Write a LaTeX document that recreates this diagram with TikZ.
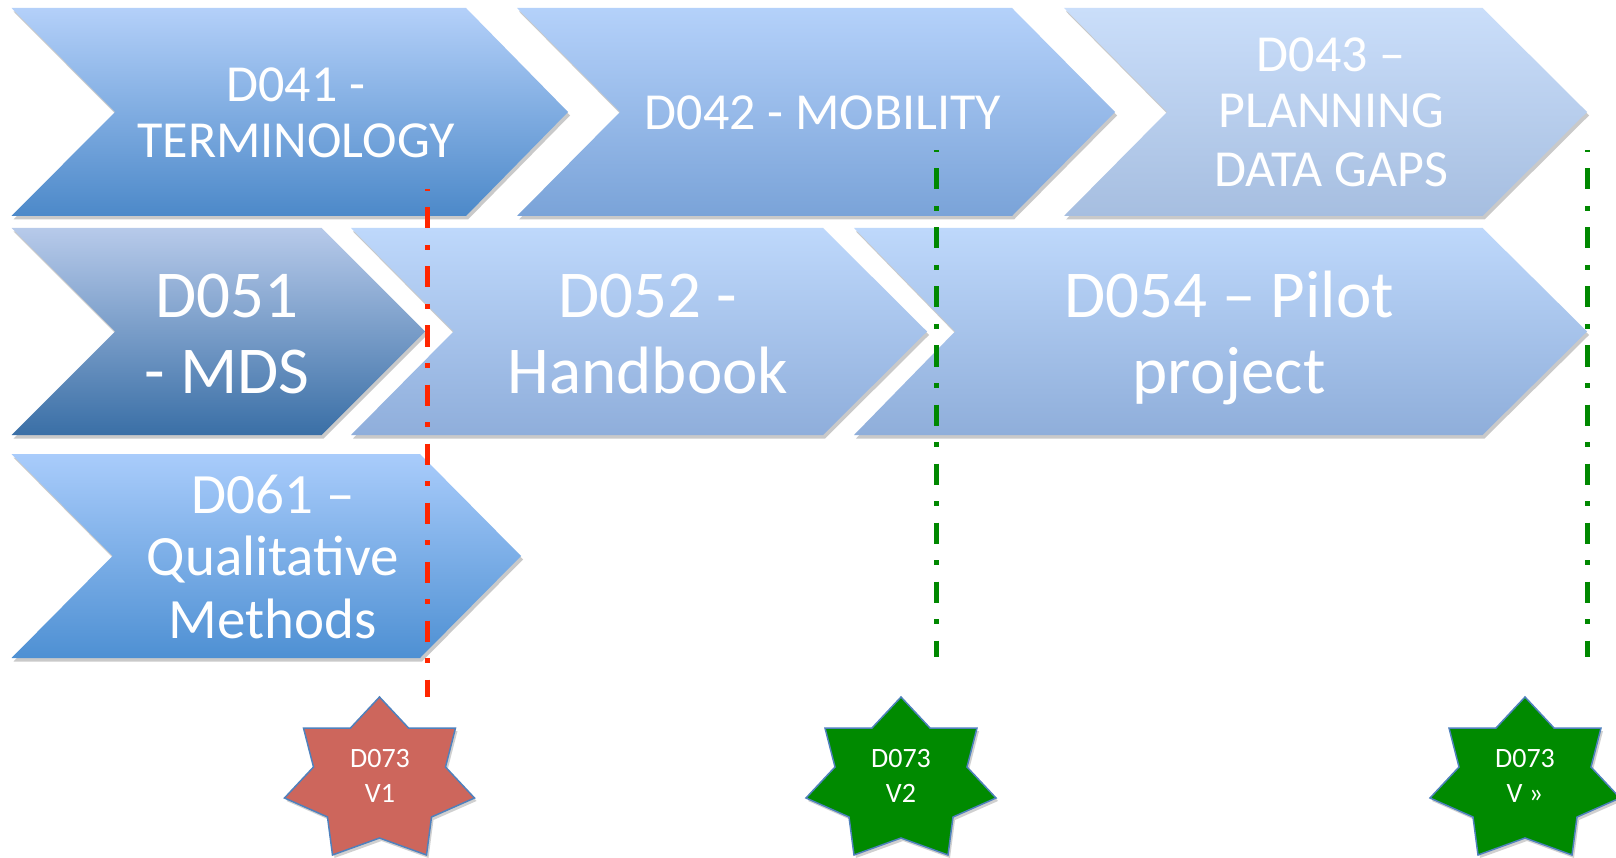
\documentclass[tikz,border=0pt]{standalone}
\usepackage{fontspec}
\setmainfont{Carlito}
\usetikzlibrary{shadows}
\definecolor{redline}{RGB}{255,38,0}
\definecolor{greenline}{RGB}{0,136,0}
\definecolor{starred}{RGB}{205,102,92}
\definecolor{stargreen}{RGB}{0,138,0}
\definecolor{starblue}{RGB}{79,129,189}
\definecolor{aT}{RGB}{180,208,249}\definecolor{aB}{RGB}{76,137,201}
\definecolor{bT}{RGB}{180,209,250}\definecolor{bB}{RGB}{122,163,216}
\definecolor{cT}{RGB}{202,222,250}\definecolor{cB}{RGB}{166,190,224}
\definecolor{dT}{RGB}{183,202,234}\definecolor{dB}{RGB}{58,111,166}
\definecolor{eT}{RGB}{190,216,251}\definecolor{eB}{RGB}{143,174,219}
\definecolor{fT}{RGB}{190,216,251}\definecolor{fB}{RGB}{143,174,218}
\definecolor{gT}{RGB}{169,204,251}\definecolor{gB}{RGB}{78,144,211}
\tikzset{
  chevshape/.style={drop shadow={shadow xshift=2pt,shadow yshift=-3.5pt,opacity=0.35,fill=black!60}},
  marker/.style={line width=5pt,dash pattern=on 5pt off 16.5pt on 21pt off 16.5pt,dash phase=3pt},
  starshape/.style={draw=starblue,line width=1.5pt,line join=miter,drop shadow={shadow xshift=2pt,shadow yshift=-3pt,opacity=0.3,fill=black!60}},
  lbl/.style={text=white,anchor=base,inner sep=0pt},
  big/.style={lbl,font=\fontsize{52}{57}\selectfont},
  huge/.style={lbl,font=\fontsize{67}{75}\selectfont},
  mid/.style={lbl,font=\fontsize{57}{62}\selectfont},
  small/.style={lbl,font=\fontsize{28}{34}\selectfont},
}
% #1 left, #2 notch x, #3 top-right x, #4 tip x, #5 top, #6 bottom, #7 top colour, #8 bottom colour
\newcommand\mychev[8]{%
  \path[chevshape,top color=#7,bottom color=#8]
    (#1,#5) -- (#3,#5) -- (#4,{(#5+#6)/2}) -- (#3,#6) -- (#1,#6) -- (#2,{(#5+#6)/2}) -- cycle;}
% #1 x of top point, #2 fill colour
\newcommand\mystar[2]{%
  \path[starshape,fill=#2,shift={(#1,697)}]
    (0,0) -- (29,31) -- (76,31) -- (66,70) -- (95,101) -- (52,120) -- (47,158)
    -- (0,141) -- (-47,158) -- (-52,120) -- (-95,101) -- (-66,70) -- (-76,31) -- (-29,31) -- cycle;}
\begin{document}
\begin{tikzpicture}[x=1pt,y=-1pt]
\useasboundingbox[fill=white] (0,0) rectangle (1616,858);

% row 1
\mychev{11.5}{115}{466}{568}{8}{216}{aT}{aB}
\mychev{517}{620}{1012}{1115}{8}{216}{bT}{bB}
\mychev{1064}{1167}{1482.5}{1587}{8}{216}{cT}{cB}
% row 2
\mychev{11.5}{115}{321.5}{425}{228}{435}{dT}{dB}
\mychev{351}{453.5}{823}{927}{228}{435}{eT}{eB}
\mychev{854}{955}{1482.5}{1587}{228}{435}{fT}{fB}
% row 3
\mychev{11.5}{112.5}{420}{521}{454}{658}{gT}{gB}

% labels
\node[big] (t41a) at (296,102) {D041 -};
\node[big] (t41b) at (296,158) {TERMINOLOGY};
\node[big] (t42) at (823,130) {D042 - MOBILITY};
\node[big] (t43a) at (1331,72) {D043 –};
\node[big] (t43b) at (1331,128) {PLANNING};
\node[big] (t43c) at (1331,186.5) {DATA GAPS};
\node[huge] (t51a) at (227,318) {D051};
\node[huge] (t51b) at (227,393) {- MDS};
\node[huge] (t52a) at (648,318) {D052 -};
\node[huge] (t52b) at (648,393) {Handbook};
\node[huge] (t54a) at (1229,318) {D054 – Pilot};
\node[huge] (t54b) at (1229,393) {project};
\node[mid] (t61a) at (273,513) {D061 –};
\node[mid] (t61b) at (273,575.5) {Qualitative};
\node[mid] (t61c) at (273,638) {Methods};

% milestone markers
\coordinate (r1) at (427.5,189);
\coordinate (r2) at (427.5,697);
\coordinate (g1) at (936,150);
\coordinate (g2) at (936,657);
\coordinate (h1) at (1587,150);
\coordinate (h2) at (1587,657);
\draw[marker,redline] (r1) -- (r2);
\draw[marker,greenline] (g1) -- (g2);
\draw[marker,greenline] (h1) -- (h2);

% stars
\mystar{379.5}{starred}
\mystar{901}{stargreen}
\mystar{1525}{stargreen}
\node[small] (s1a) at (380,767) {D073};
\node[small] (s1b) at (380,802) {V1};
\node[small] (s2a) at (901,767) {D073};
\node[small] (s2b) at (901,802) {V2};
\node[small] (s3a) at (1525,767) {D073};
\node[small] (s3b) at (1525,802) {V »};
\end{tikzpicture}
\end{document}
